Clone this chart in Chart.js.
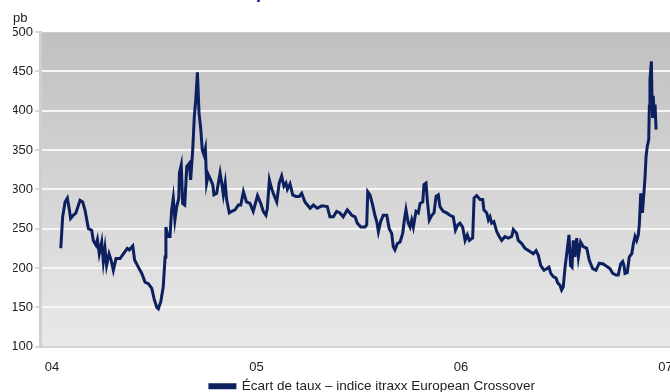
<!DOCTYPE html>
<html>
<head>
<meta charset="utf-8">
<script src="https://cdn.jsdelivr.net/npm/chart.js@4/dist/chart.umd.min.js"></script>
<style>
html, body { margin: 0; padding: 0; overflow: hidden; background: #fff; width: 670px; height: 392px; }
#wrap { position: absolute; left: 0; top: -18px; width: 732px; height: 421px; }
</style>
</head>
<body>
<div id="wrap"><canvas id="myChart"></canvas></div>
<script>
// dates as decimal years, spread in basis points (pb)
var dates2004 = [2004.043,2004.052,2004.064,2004.075,2004.085,2004.091,2004.104,2004.117,2004.137,2004.150,
  2004.161,2004.178,2004.194,2004.202,2004.215,2004.222,2004.231,2004.243,2004.251,2004.259,
  2004.267,2004.279,2004.289,2004.300,2004.313,2004.333,2004.349,2004.368,2004.378,2004.395,
  2004.404,2004.422,2004.439,2004.455,2004.471,2004.488,2004.499,2004.512,2004.520,2004.532,
  2004.544,2004.553,2004.557,2004.566,2004.577,2004.585,2004.593,2004.601,2004.610,2004.620,
  2004.623,2004.632,2004.639,2004.649,2004.659,2004.671,2004.678,2004.688,2004.696,2004.703,
  2004.711,2004.719,2004.727,2004.735,2004.743,2004.750,2004.756,2004.764,2004.776,2004.786,
  2004.792,2004.805,2004.822,2004.830,2004.838,2004.847,2004.854,2004.867,2004.879,2004.895,
  2004.911,2004.923,2004.936,2004.951,2004.968,2004.984];
var spread2004 = [225,265,284,289,274,263,267,270,286,284,
  274,250,248,235,229,236,218,233,208,225,
  203,218,210,197,212,212,218,225,223,228,
  210,201,193,182,180,174,161,150,148,157,
  176,214,252,240,240,274,289,261,278,289,
  321,331,282,280,329,333,312,350,393,414,
  449,397,378,350,344,352,308,319,312,306,
  293,295,321,308,293,308,287,270,272,274,
  280,280,297,284,282,272];
var dates2005 = [2005.005,2005.021,2005.033,2005.046,2005.053,2005.063,2005.074,2005.082,2005.099,2005.111,
  2005.123,2005.134,2005.144,2005.151,2005.164,2005.177,2005.193,2005.209,2005.221,2005.237,
  2005.262,2005.278,2005.297,2005.319,2005.346,2005.359,2005.376,2005.392,2005.408,2005.424,
  2005.444,2005.466,2005.482,2005.493,2005.510,2005.531,2005.539,2005.544,2005.555,2005.568,
  2005.579,2005.588,2005.596,2005.607,2005.620,2005.637,2005.649,2005.661,2005.669,2005.677,
  2005.689,2005.702,2005.715,2005.723,2005.731,2005.742,2005.751,2005.759,2005.767,2005.780,
  2005.791,2005.800,2005.813,2005.819,2005.829,2005.835,2005.845,2005.857,2005.868,2005.878,
  2005.889,2005.897,2005.913,2005.930,2005.946,2005.962,2005.973,2005.985,2005.995];
var spread2005 = [292,282,272,267,276,312,301,295,284,308,
  317,304,308,300,307,293,291,291,295,284,
  276,280,276,279,278,265,265,272,270,265,
  274,267,265,257,252,252,255,297,293,280,
  267,259,246,259,267,267,250,244,227,223,
  231,233,244,261,274,257,252,261,252,272,
  270,282,284,306,308,287,261,267,270,291,
  293,278,272,270,267,265,248,255,257];
var dates2006 = [2006.008,2006.020,2006.031,2006.041,2006.057,2006.064,2006.077,2006.093,2006.106,2006.112,
  2006.126,2006.134,2006.142,2006.150,2006.161,2006.175,2006.187,2006.199,2006.215,2006.231,
  2006.248,2006.256,2006.272,2006.280,2006.297,2006.313,2006.337,2006.354,2006.367,2006.378,
  2006.390,2006.406,2006.419,2006.430,2006.439,2006.451,2006.465,2006.473,2006.484,2006.492,
  2006.500,2006.509,2006.517,2006.528,2006.536,2006.543,2006.549,2006.557,2006.566,2006.574,
  2006.585,2006.598,2006.615,2006.627,2006.644,2006.660,2006.676,2006.696,2006.712,2006.729,
  2006.742,2006.758,2006.769,2006.781,2006.791,2006.797,2006.802,2006.813,2006.823,2006.835,
  2006.843,2006.851,2006.859,2006.867,2006.872,2006.879,2006.887,2006.895,2006.900,2006.905,
  2006.911,2006.918,2006.921,2006.924,2006.931,2006.934,2006.937,2006.940,2006.945,2006.949,
  2006.954];
var spread2006 = [252,235,242,235,238,289,292,287,287,274,
  270,261,265,257,259,246,240,235,240,238,
  240,249,244,235,231,225,221,218,222,216,
  203,197,199,201,193,189,187,181,178,172,
  176,201,218,242,203,201,235,214,238,214,
  233,227,225,210,199,197,206,205,202,199,
  193,191,191,205,208,203,193,194,214,218,
  231,240,235,242,255,295,270,297,316,342,
  355,363,406,440,463,414,391,419,393,408,
  376];

var yearTicks = [2004, 2005, 2006, 2007];
var yearLabels = ['04', '05', '06', '07'];
var seriesLabel = 'Écart de taux – indice itraxx European Crossover';

var dates = dates2004.concat(dates2005, dates2006);
var spread = spread2004.concat(spread2005, spread2006);
var points = [];
for (var i = 0; i < dates.length; i++) {
  points.push({x: dates[i], y: spread[i]});
}

// grey gradient behind the plot
var plotBackground = {
  id: 'plotBackground',
  beforeDraw: function(chart) {
    var a = chart.chartArea;
    var ctx = chart.ctx;
    var g = ctx.createLinearGradient(0, a.top, 0, a.bottom);
    g.addColorStop(0, '#c0c0c0');
    g.addColorStop(1, '#e9e9e9');
    ctx.save();
    ctx.fillStyle = g;
    ctx.fillRect(a.left, a.top, a.right - a.left, a.bottom - a.top);
    ctx.restore();
  }
};

var font = "'Liberation Sans', Arial, sans-serif";
var ctx = document.getElementById('myChart').getContext('2d');
var myChart = new Chart(ctx, {
  type: 'line',
  data: {
    datasets: [{
      label: seriesLabel,
      data: points,
      borderColor: '#0c1f5f',
      backgroundColor: '#0c1f5f',
      borderWidth: 3,
      pointRadius: 0,
      tension: 0,
      fill: false
    }]
  },
  options: {
    responsive: true,
    maintainAspectRatio: false,
    animation: false,
    layout: { padding: { left: 13, right: 0, top: 0, bottom: 0 } },
    plugins: {
      title: {
        display: true,
        text: 'Les spreads de crédit se sont envolés',
        color: '#14148c',
        font: { family: font, size: 18, weight: 'bold' },
        padding: 0
      },
      subtitle: {
        display: true,
        text: 'pb',
        align: 'start',
        color: '#222',
        font: { family: font, size: 13 },
        padding: { top: 7, bottom: 6 }
      },
      legend: {
        position: 'bottom',
        labels: {
          color: '#222',
          font: { family: font, size: 13.5 },
          boxWidth: 25,
          boxHeight: 3,
          padding: 4
        }
      },
      tooltip: { enabled: false }
    },
    scales: {
      x: {
        type: 'linear',
        min: 2003.9413,
        max: 2007.3252,
        afterBuildTicks: function(scale) {
          scale.ticks = yearTicks.map(function(v) { return {value: v}; });
        },
        afterFit: function(scale) { scale.height = 29; },
        ticks: {
          color: '#222',
          font: { family: font, size: 13 },
          padding: 13,
          maxRotation: 0,
          callback: function(value) {
            var k = yearTicks.indexOf(value);
            return k >= 0 ? yearLabels[k] : '';
          }
        },
        grid: { display: false, drawTicks: false, tickLength: 0 },
        border: { display: false }
      },
      y: {
        min: 100,
        max: 500,
        afterFit: function(scale) { scale.width = 27; },
        ticks: {
          stepSize: 50,
          color: '#222',
          font: { family: font, size: 13 },
          padding: 2
        },
        grid: {
          color: function(c) {
            if (c.tick && c.tick.value === 500) return 'rgba(0,0,0,0)';
            if (c.tick && c.tick.value === 100) return '#d4d4d4';
            return '#f6f6f6';
          },
          lineWidth: 2,
          tickLength: 5,
          tickColor: '#b8b8b8',
          tickWidth: 1
        },
        border: { display: true, color: '#cfcfcf', width: 3 }
      }
    }
  },
  plugins: [plotBackground]
});
</script>
</body>
</html>
